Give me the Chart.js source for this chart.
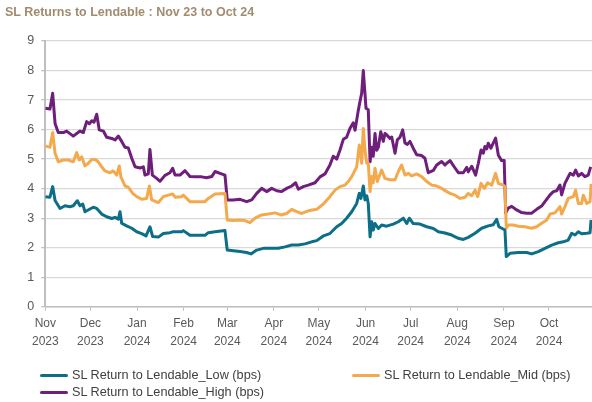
<!DOCTYPE html>
<html>
<head>
<meta charset="utf-8">
<script src="https://cdn.jsdelivr.net/npm/chart.js@4.4.1/dist/chart.umd.min.js"></script>
<style>
  html, body { margin: 0; padding: 0; background: #ffffff; }
  #wrap { position: relative; width: 592px; height: 402px; overflow: hidden; font-family: "Liberation Sans", Arial, sans-serif; }
  #title { position: absolute; left: 5px; top: 5px; font-weight: bold; font-size: 12.5px; color: #A08C6E; white-space: nowrap; }
  #chart { position: absolute; left: 0; top: 0; }
  .leg { position: absolute; height: 16px; line-height: 16px; font-size: 12.7px; color: #404040; white-space: nowrap; }
  .leg .sw { position: absolute; left: 0; top: 6.5px; width: 28px; height: 3px; border-radius: 1.5px; }
  .leg .tx { position: absolute; left: 32px; top: 0; }
</style>
</head>
<body>
<div id="wrap">
  <canvas id="chart" width="592" height="402"></canvas>
  <div id="title">SL Returns to Lendable : Nov 23 to Oct 24</div>
  <div id="legend"></div>
</div>
<script>
// ---- data (x = days since 1 Nov 2023) ----
const monthTickDays = [0, 30, 61, 92, 121, 152, 182, 213, 243, 274, 305, 335];
const monthNames = ["Nov", "Dec", "Jan", "Feb", "Mar", "Apr", "May", "Jun", "Jul", "Aug", "Sep", "Oct"];
const yearNames = ["2023", "2023", "2024", "2024", "2024", "2024", "2024", "2024", "2024", "2024", "2024", "2024"];
const yTickValues = [0, 1, 2, 3, 4, 5, 6, 7, 8, 9];
const seriesLabels = ["SL Return to Lendable_Low (bps)", "SL Return to Lendable_Mid (bps)", "SL Return to Lendable_High (bps)"];

const lowDays = [0, 3.1, 4.9, 6.5, 9.8, 13.1, 16.4, 18.6, 21.3, 23.1, 24.9, 26.4, 29.7, 31.9, 34.2, 37.5, 40.8, 44.2, 46.4, 48.6, 49.7, 50.8, 54.1, 57.5, 60.8, 64.1, 67.0, 69.6, 71.4, 75.2, 78.5, 82.9, 85.1, 90.7, 91.8, 96.2, 101.8, 106.2, 108.4, 112.9, 119.5, 121, 125.0, 129.5, 133.9, 136.8, 140.6, 145.0, 150.6, 155.0, 159.4, 163.9, 168.3, 172.7, 177.2, 180.5, 184.9, 189.3, 193.8, 197.1, 200.4, 203.8, 207.1, 208.8, 209.9, 211.5, 212.6, 213.8, 214.8, 216.0, 217.1, 218.1, 219.3, 221.5, 223.7, 227.0, 231.4, 234.8, 238.1, 240.4, 242.1, 244.7, 249.2, 253.7, 258.1, 261.4, 265.8, 270.3, 274.7, 278.0, 281.3, 285.8, 290.2, 294.6, 297.9, 300.2, 301.7, 305.7, 306.6, 309.1, 314.6, 320.2, 323.5, 327.9, 332.3, 336.8, 341.2, 344.5, 347.8, 350.1, 352.3, 354.5, 356.7, 360.1, 362.3, 363.0];
const lowValues = [3.73, 3.71, 4.07, 3.60, 3.33, 3.42, 3.39, 3.42, 3.59, 3.42, 3.48, 3.22, 3.31, 3.37, 3.33, 3.14, 3.05, 2.99, 3.03, 2.97, 3.22, 2.83, 2.74, 2.66, 2.54, 2.48, 2.40, 2.71, 2.38, 2.36, 2.48, 2.51, 2.54, 2.54, 2.58, 2.42, 2.42, 2.42, 2.51, 2.54, 2.58, 1.92, 1.90, 1.87, 1.84, 1.79, 1.92, 1.98, 1.98, 1.98, 2.03, 2.09, 2.09, 2.13, 2.20, 2.24, 2.40, 2.48, 2.71, 2.82, 3.00, 3.22, 3.50, 3.84, 3.67, 4.09, 3.62, 3.76, 3.50, 2.37, 2.88, 2.60, 2.82, 2.65, 2.77, 2.73, 2.80, 2.88, 3.00, 2.82, 3.00, 2.82, 2.80, 2.71, 2.65, 2.54, 2.50, 2.43, 2.32, 2.28, 2.35, 2.49, 2.66, 2.74, 2.78, 2.96, 2.71, 2.60, 1.70, 1.81, 1.84, 1.84, 1.79, 1.87, 1.98, 2.09, 2.17, 2.20, 2.26, 2.49, 2.43, 2.54, 2.47, 2.49, 2.51, 2.94];

const midDays = [0, 3.1, 4.9, 6.5, 8.6, 12.0, 15.3, 18.6, 20.9, 22.6, 24.2, 26.4, 28.6, 30.9, 33.1, 35.2, 37.5, 39.7, 43.0, 45.2, 47.5, 49.2, 50.3, 53.0, 55.2, 58.1, 60.8, 64.1, 67.4, 69.2, 70.8, 75.2, 78.5, 81.8, 84.7, 86.3, 90.7, 91.8, 96.2, 101.8, 106.2, 108.4, 112.9, 119.5, 121, 125.0, 129.5, 132.8, 136.1, 139.5, 143.9, 148.3, 152.8, 156.8, 160.5, 163.9, 167.2, 170.5, 174.9, 180.5, 184.9, 189.3, 192.7, 196.0, 199.4, 201.5, 203.8, 207.1, 208.8, 210.4, 211.5, 212.6, 213.8, 214.8, 216.0, 217.1, 218.1, 219.3, 220.8, 223.7, 225.9, 229.2, 232.6, 234.8, 237.0, 239.2, 241.4, 243.7, 247.0, 250.3, 253.7, 257.0, 260.3, 263.6, 267.0, 269.2, 272.5, 275.8, 279.2, 281.3, 283.6, 285.8, 287.6, 289.8, 292.0, 294.2, 296.9, 299.5, 301.3, 304.6, 305.7, 306.6, 307.9, 311.3, 314.6, 319.0, 323.5, 326.8, 330.1, 333.5, 335.7, 339.0, 342.3, 343.4, 345.6, 347.8, 351.2, 352.7, 354.5, 356.7, 357.8, 360.1, 362.3, 363.0];
const midValues = [5.45, 5.40, 5.90, 5.20, 4.91, 4.97, 4.97, 4.91, 5.22, 4.97, 5.08, 4.77, 4.86, 4.99, 4.99, 4.91, 4.74, 4.60, 4.54, 4.60, 4.46, 4.77, 4.40, 4.09, 4.05, 3.84, 3.73, 3.64, 3.67, 4.09, 3.62, 3.53, 3.73, 3.78, 3.82, 3.71, 3.73, 3.78, 3.56, 3.56, 3.56, 3.67, 3.82, 3.84, 2.94, 2.92, 2.94, 2.92, 2.85, 3.00, 3.11, 3.14, 3.18, 3.11, 3.16, 3.30, 3.22, 3.16, 3.25, 3.30, 3.48, 3.73, 3.95, 4.07, 4.12, 4.24, 4.41, 4.74, 5.48, 4.86, 6.04, 5.30, 4.86, 4.86, 3.90, 4.41, 4.20, 4.69, 4.24, 4.63, 4.35, 4.30, 4.30, 4.58, 4.80, 4.46, 4.52, 4.43, 4.50, 4.41, 4.24, 4.12, 4.09, 4.01, 3.90, 3.84, 3.78, 3.67, 3.71, 3.84, 3.76, 3.95, 3.73, 4.18, 4.01, 4.20, 4.12, 4.52, 4.18, 4.12, 4.07, 2.66, 2.77, 2.77, 2.73, 2.71, 2.66, 2.71, 2.83, 2.94, 3.14, 3.18, 3.39, 3.14, 3.39, 3.67, 3.73, 3.95, 3.50, 3.50, 3.78, 3.50, 3.56, 4.16];

const highDays = [0, 3.1, 4.9, 6.5, 8.6, 12.0, 14.2, 18.6, 23.1, 25.3, 27.5, 29.3, 30.9, 32.4, 34.2, 35.9, 38.6, 40.8, 44.2, 46.4, 48.6, 50.8, 53.0, 55.2, 57.5, 59.7, 63.0, 65.2, 66.3, 68.5, 69.6, 71.2, 74.1, 76.3, 79.6, 82.9, 84.7, 86.3, 89.6, 92.9, 96.2, 99.5, 104.0, 107.3, 110.7, 112.9, 116.2, 119.5, 121, 125.0, 129.5, 133.9, 137.3, 140.6, 143.9, 147.2, 150.6, 153.9, 157.2, 160.5, 163.9, 166.5, 168.3, 171.6, 174.9, 179.4, 182.7, 186.0, 189.3, 191.5, 193.8, 196.0, 198.2, 200.4, 202.6, 204.8, 206.0, 208.2, 209.3, 210.4, 211.5, 212.6, 213.3, 214.8, 216.0, 217.1, 218.1, 219.3, 220.4, 221.5, 223.1, 224.8, 225.9, 227.5, 229.2, 230.4, 232.6, 234.1, 235.9, 237.7, 239.2, 240.8, 242.5, 244.7, 247.0, 250.3, 252.5, 254.7, 258.1, 260.3, 263.6, 265.8, 267.0, 269.2, 272.5, 274.7, 278.0, 280.3, 281.3, 283.6, 286.2, 288.0, 289.8, 291.3, 292.4, 293.6, 294.6, 296.4, 297.9, 299.5, 301.3, 303.5, 305.2, 306.2, 307.9, 310.2, 313.5, 316.8, 320.2, 323.5, 326.8, 330.1, 332.3, 335.7, 337.9, 340.1, 342.3, 343.4, 345.6, 349.0, 351.2, 352.7, 354.5, 356.7, 358.9, 361.1, 362.7];
const highValues = [6.72, 6.70, 7.23, 6.21, 5.90, 5.90, 5.95, 5.78, 5.95, 5.90, 6.27, 6.20, 6.30, 6.25, 6.52, 5.99, 5.95, 5.74, 5.70, 5.65, 5.78, 5.60, 5.40, 5.38, 5.03, 4.74, 4.70, 4.74, 4.46, 4.50, 5.33, 4.46, 4.35, 4.25, 4.45, 4.54, 4.69, 4.46, 4.46, 4.61, 4.41, 4.40, 4.40, 4.37, 4.41, 4.58, 4.52, 4.46, 3.62, 3.62, 3.64, 3.56, 3.62, 3.84, 4.01, 3.90, 4.01, 3.93, 3.90, 4.01, 4.09, 4.20, 3.98, 4.07, 4.12, 4.20, 4.40, 4.50, 4.80, 5.10, 5.00, 5.31, 5.67, 5.74, 6.04, 6.23, 5.98, 6.66, 6.95, 7.23, 8.00, 7.23, 6.72, 6.67, 4.91, 5.40, 5.10, 5.87, 5.30, 5.40, 5.93, 5.60, 5.87, 5.80, 5.70, 5.75, 5.20, 5.65, 5.74, 5.99, 5.55, 5.50, 5.60, 5.37, 5.15, 5.12, 5.03, 4.54, 4.62, 4.80, 4.92, 4.80, 4.86, 4.95, 4.70, 4.54, 4.54, 4.72, 4.57, 4.76, 4.46, 4.86, 5.31, 5.20, 5.43, 5.35, 5.54, 5.37, 5.54, 5.71, 5.13, 4.95, 4.95, 3.17, 3.34, 3.40, 3.28, 3.19, 3.17, 3.17, 3.30, 3.41, 3.56, 3.79, 3.90, 3.93, 4.12, 3.79, 4.18, 4.52, 4.46, 4.63, 4.43, 4.52, 4.41, 4.46, 4.74];

const seriesColors = ["#0C6E87", "#F4A94C", "#6F1E7B"];

function pairs(xs, ys) { return xs.map((x, i) => ({ x: x, y: ys[i] })); }

const datasets = [
  { label: seriesLabels[0], data: pairs(lowDays, lowValues), borderColor: seriesColors[0] },
  { label: seriesLabels[1], data: pairs(midDays, midValues), borderColor: seriesColors[1] },
  { label: seriesLabels[2], data: pairs(highDays, highValues), borderColor: seriesColors[2] }
].map(d => Object.assign(d, { borderWidth: 3, pointRadius: 0, tension: 0, fill: false, borderJoinStyle: 'round', backgroundColor: d.borderColor }));

const FONT = "'Liberation Sans', Arial, sans-serif";
const chart = new Chart(document.getElementById('chart'), {
  type: 'line',
  data: { datasets: datasets },
  options: {
    responsive: false,
    animation: false,
    devicePixelRatio: 1,
    layout: { padding: { left: 4, top: 41, right: 0, bottom: 45.2 } },
    plugins: { legend: { display: false }, title: { display: false }, tooltip: { enabled: false } },
    scales: {
      x: {
        type: 'linear',
        min: 0,
        max: 363.6,
        afterBuildTicks: (s) => { s.ticks = monthTickDays.map(v => ({ value: v })); },
        afterFit: (s) => { s.height = 50; },
        grid: { display: true, drawOnChartArea: false, drawTicks: true, tickLength: 4, tickColor: '#bfbfbf', tickWidth: 1 },
        border: { display: true, color: '#bfbfbf', width: 1.5 },
        ticks: {
          autoSkip: false, maxRotation: 0, minRotation: 0, padding: 4,
          color: '#595959',
          font: { family: FONT, size: 12, lineHeight: 1.5 },
          callback: (v, i) => [monthNames[i], yearNames[i]]
        }
      },
      y: {
        min: 0,
        max: 9,
        afterBuildTicks: (s) => { s.ticks = yTickValues.map(v => ({ value: v })); },
        afterFit: (s) => { s.width = 41.3; },
        grid: { color: '#d9d9d9', lineWidth: 1.3, drawTicks: true, tickLength: 4, tickColor: '#bfbfbf' },
        border: { display: true, color: '#bfbfbf', width: 2 },
        ticks: { padding: 7, color: '#595959', font: { family: FONT, size: 12.5 } }
      }
    }
  }
});

// HTML legend built from the datasets
const legendPos = [ { left: 40, top: 367 }, { left: 352, top: 367 }, { left: 40, top: 384 } ];
const legendEl = document.getElementById('legend');
chart.data.datasets.forEach((ds, i) => {
  const item = document.createElement('div');
  item.className = 'leg';
  item.style.left = legendPos[i].left + 'px';
  item.style.top = legendPos[i].top + 'px';
  const sw = document.createElement('span');
  sw.className = 'sw';
  sw.style.background = ds.borderColor;
  const tx = document.createElement('span');
  tx.className = 'tx';
  tx.textContent = ds.label;
  item.appendChild(sw);
  item.appendChild(tx);
  legendEl.appendChild(item);
});
</script>
</body>
</html>
